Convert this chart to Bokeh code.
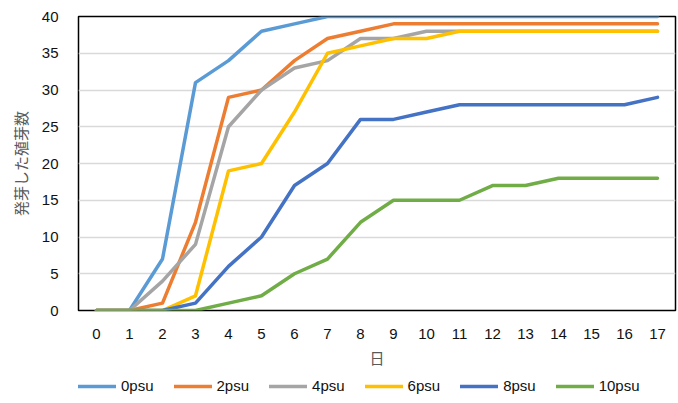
from bokeh.plotting import figure
from bokeh.layouts import column
from bokeh.models import ColumnDataSource, Legend, LegendItem, FixedTicker, Range1d
from bokeh.embed import file_html
from bokeh.resources import INLINE

days = list(range(18))
series_names = ["0psu", "2psu", "4psu", "6psu", "8psu", "10psu"]
psu0 = [0, 0, 7, 31, 34, 38, 39, 40, 40, 40, 40, 40, 40, 40, 40, 40, 40, 40]
psu2 = [0, 0, 1, 12, 29, 30, 34, 37, 38, 39, 39, 39, 39, 39, 39, 39, 39, 39]
psu4 = [0, 0, 4, 9, 25, 30, 33, 34, 37, 37, 38, 38, 38, 38, 38, 38, 38, 38]
psu6 = [0, 0, 0, 2, 19, 20, 27, 35, 36, 37, 37, 38, 38, 38, 38, 38, 38, 38]
psu8 = [0, 0, 0, 1, 6, 10, 17, 20, 26, 26, 27, 28, 28, 28, 28, 28, 28, 29]
psu10 = [0, 0, 0, 0, 1, 2, 5, 7, 12, 15, 15, 15, 17, 17, 18, 18, 18, 18]
colors = ["#5B9BD5", "#ED7D31", "#A5A5A5", "#FFC000", "#4472C4", "#70AD47"]
y_ticks = [0, 5, 10, 15, 20, 25, 30, 35, 40]

cols = ["psu0", "psu2", "psu4", "psu6", "psu8", "psu10"]
src = ColumnDataSource(dict(day=days, psu0=psu0, psu2=psu2, psu4=psu4,
                            psu6=psu6, psu8=psu8, psu10=psu10))
LINE = dict(line_width=3.5, line_cap="round", line_join="round")

# main chart
p = figure(frame_width=597, frame_height=294, output_backend="svg",
           toolbar_location=None, x_range=Range1d(-0.545, 17.545),
           y_range=Range1d(0, 40), min_border_left=78, min_border_right=3,
           min_border_top=16, min_border_bottom=63)
p.background_fill_color = "white"
p.border_fill_color = "white"
p.outline_line_color = "black"
p.outline_line_width = 1.5

for col, c in zip(cols, colors):
    p.line("day", col, source=src, line_color=c, **LINE)

p.xgrid.grid_line_color = None
p.ygrid.grid_line_color = "#D9D9D9"
p.ygrid.grid_line_width = 1.3

p.xaxis.ticker = FixedTicker(ticks=days)
p.yaxis.ticker = FixedTicker(ticks=y_ticks)
for ax in (p.xaxis, p.yaxis):
    ax.axis_line_color = None
    ax.major_tick_line_color = None
    ax.minor_tick_line_color = None
    ax.major_label_text_color = "#111111"
    ax.major_label_text_font = "Liberation Sans"
    ax.major_label_text_font_size = "15px"
    ax.axis_label_text_font = "Noto Sans CJK JP"
    ax.axis_label_text_font_size = "15px"
    ax.axis_label_text_font_style = "normal"
    ax.axis_label_text_color = "#595959"
p.xaxis.axis_label = "日"
p.yaxis.axis_label = "発芽した殖芽数"
p.xaxis.major_label_standoff = 12
p.xaxis.axis_label_standoff = 5
p.yaxis.major_label_standoff = 14
p.yaxis.axis_label_standoff = 8

# legend strip: same series in a view range that keeps the lines off-screen,
# so only the legend keys show
leg = figure(width=678, height=30, output_backend="svg", toolbar_location=None,
             x_range=Range1d(100, 101), y_range=Range1d(100, 101),
             x_axis_type=None, y_axis_type=None, min_border=0)
leg.outline_line_color = None
leg.grid.visible = False
items = []
for name, col, c in zip(series_names, cols, colors):
    r = leg.line("day", col, source=src, line_color=c, **LINE)
    items.append(LegendItem(label=name, renderers=[r]))

legend = Legend(items=items, orientation="horizontal", location=(0, 9),
                label_text_font="Liberation Sans", label_text_font_size="15px",
                label_text_color="#111111", glyph_width=38, glyph_height=14,
                label_standoff=5, spacing=20, border_line_color=None,
                padding=0, margin=0, background_fill_alpha=0)
leg.add_layout(legend, "center")

layout = column(p, leg, spacing=0)
open("out.html", "w").write(file_html(layout, INLINE))
